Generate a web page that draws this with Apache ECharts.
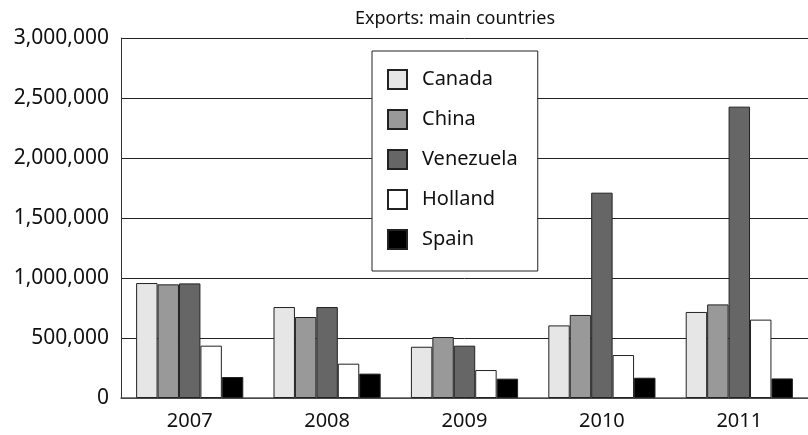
<!DOCTYPE html>
<html>
<head>
<meta charset="utf-8">
<script src="https://cdn.jsdelivr.net/npm/echarts@6/dist/echarts.min.js"></script>
<style>
  html, body { margin: 0; padding: 0; background: #fff; }
  #chart { width: 808px; height: 435px; }
</style>
</head>
<body>
<div id="chart"></div>
<script>
// Export volumes by destination country, 2007–2011
const years = ['2007', '2008', '2009', '2010', '2011'];
const canada    = [958000, 758000, 427000, 605000, 717000];
const china     = [947000, 675000, 508000, 692000, 780000];
const venezuela = [955000, 758000, 436000, 1711000, 2428000];
const holland   = [436000, 286000, 233000, 358000, 653000];
const spain     = [175000, 203000, 161000, 169000, 163000];

const FONT = '"Noto Sans", "Open Sans", sans-serif';
const EDGE = '#222';

function bar(name, data, fill) {
  return {
    name: name,
    type: 'bar',
    data: data,
    barGap: '0%',
    barCategoryGap: '22%',
    itemStyle: { color: fill, borderColor: EDGE, borderWidth: 1 },
    emphasis: { disabled: true }
  };
}

const chart = echarts.init(document.getElementById('chart'));
chart.setOption({
  animation: false,
  backgroundColor: '#fff',
  title: {
    text: 'Exports: main countries',
    left: 450,
    textAlign: 'center',
    top: 5,
    textStyle: { fontFamily: FONT, fontSize: 18, fontWeight: 'normal', color: '#111' }
  },
  legend: {
    orient: 'vertical',
    left: 372,
    top: 51,
    padding: [18, 20, 21, 15],
    itemGap: 19,
    itemWidth: 19,
    itemHeight: 19,
    icon: 'rect',
    backgroundColor: '#fff',
    borderColor: EDGE,
    borderWidth: 1,
    textStyle: { fontFamily: FONT, fontSize: 20, lineHeight: 19, color: '#111', padding: [0, 0, 0, 10] }
  },
  grid: { left: 121, right: 0, top: 38, bottom: 37, containLabel: false },
  xAxis: {
    type: 'category',
    data: years,
    axisLine: { lineStyle: { color: '#555', width: 1.5 } },
    axisTick: { show: false },
    axisLabel: { fontFamily: FONT, fontSize: 20, color: '#111', margin: 13 }
  },
  yAxis: {
    type: 'value',
    min: 0,
    max: 3000000,
    interval: 500000,
    axisLine: { show: true, lineStyle: { color: '#333', width: 1 } },
    axisTick: { show: false },
    splitLine: { lineStyle: { color: '#222', width: 1 } },
    axisLabel: {
      fontFamily: FONT, fontSize: 21, color: '#111', margin: 12,
      formatter: v => v.toLocaleString('en-US')
    }
  },
  series: [
    bar('Canada', canada, '#e6e6e6'),
    bar('China', china, '#999999'),
    bar('Venezuela', venezuela, '#666666'),
    bar('Holland', holland, '#ffffff'),
    bar('Spain', spain, '#000000')
  ]
});
</script>
</body>
</html>
